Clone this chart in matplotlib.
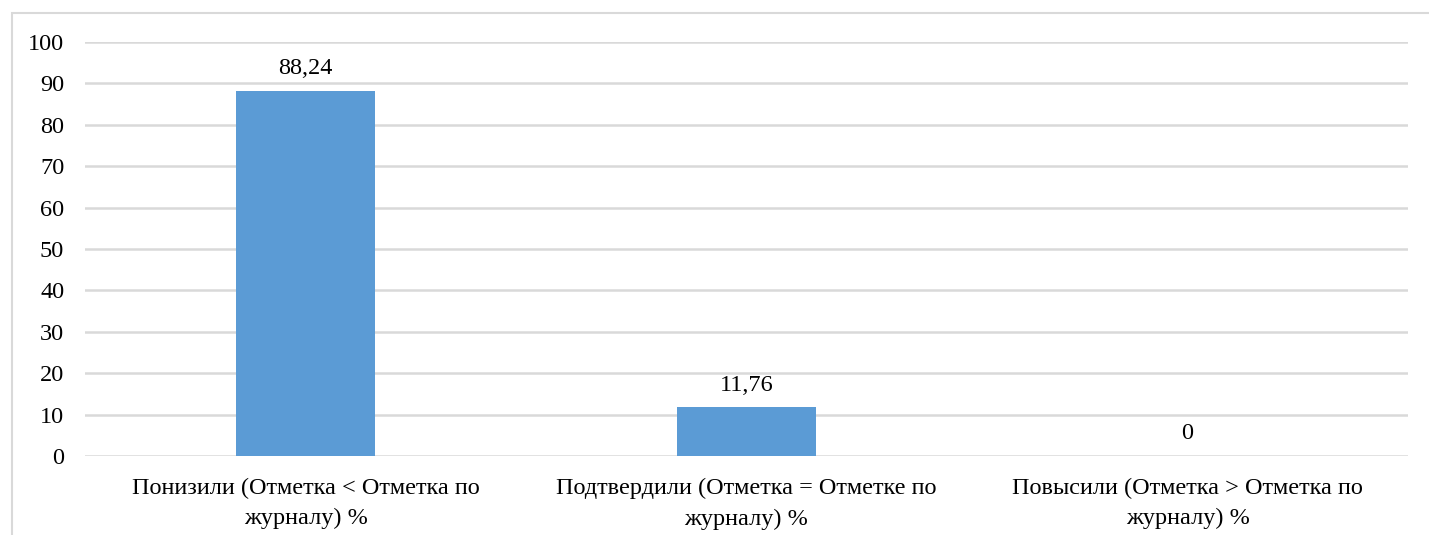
import matplotlib
matplotlib.use("Agg")
import matplotlib.pyplot as plt
from matplotlib.patches import Rectangle

categories = ["Понизили (Отметка < Отметка по\nжурналу) %",
              "Подтвердили (Отметка = Отметке по\nжурналу) %",
              "Повысили (Отметка > Отметка по\nжурналу) %"]
values = [88.24, 11.76, 0]
labels = ["88,24", "11,76", "0"]
yticks = [0, 10, 20, 30, 40, 50, 60, 70, 80, 90, 100]

plt.rcParams['font.family'] = ['Liberation Serif', 'DejaVu Serif']

W, H = 1429, 535
FS = 17.5
fig = plt.figure(figsize=(W / 100, H / 100), dpi=100)
ax = fig.add_axes([85 / W, (H - 456) / H, (1408 - 85) / W, (456 - 42) / H])

x = list(range(len(categories)))
bars = ax.bar(x, values, width=0.313, color="#5B9BD5", zorder=3)
ax.set_xlim(-0.5, len(categories) - 0.5)
ax.set_ylim(0, 100)
ax.set_yticks(yticks)
ax.set_yticklabels([str(t) for t in yticks], fontsize=FS)
ax.set_xticks(x)
ax.set_xticklabels(categories, fontsize=FS, linespacing=1.55)
ax.tick_params(axis='both', length=0, colors="#000000")
ax.tick_params(axis='y', pad=15)
ax.tick_params(axis='x', pad=16)
ax.grid(axis='y', color="#D9D9D9", linewidth=1.8, zorder=0)
for s in ax.spines.values():
    s.set_visible(False)

for xi, v, lab in zip(x, values, labels):
    ax.annotate(lab, (xi, v), xytext=(0, 8.5), textcoords="offset points",
                ha="center", va="bottom", fontsize=FS)

fig.patches.append(Rectangle((12 / W, -0.1), 1.2, 1 - 13 / H + 0.1,
                             transform=fig.transFigure, fill=False,
                             edgecolor="#D9D9D9", linewidth=1.5))

fig.savefig("out.png", dpi=100)
